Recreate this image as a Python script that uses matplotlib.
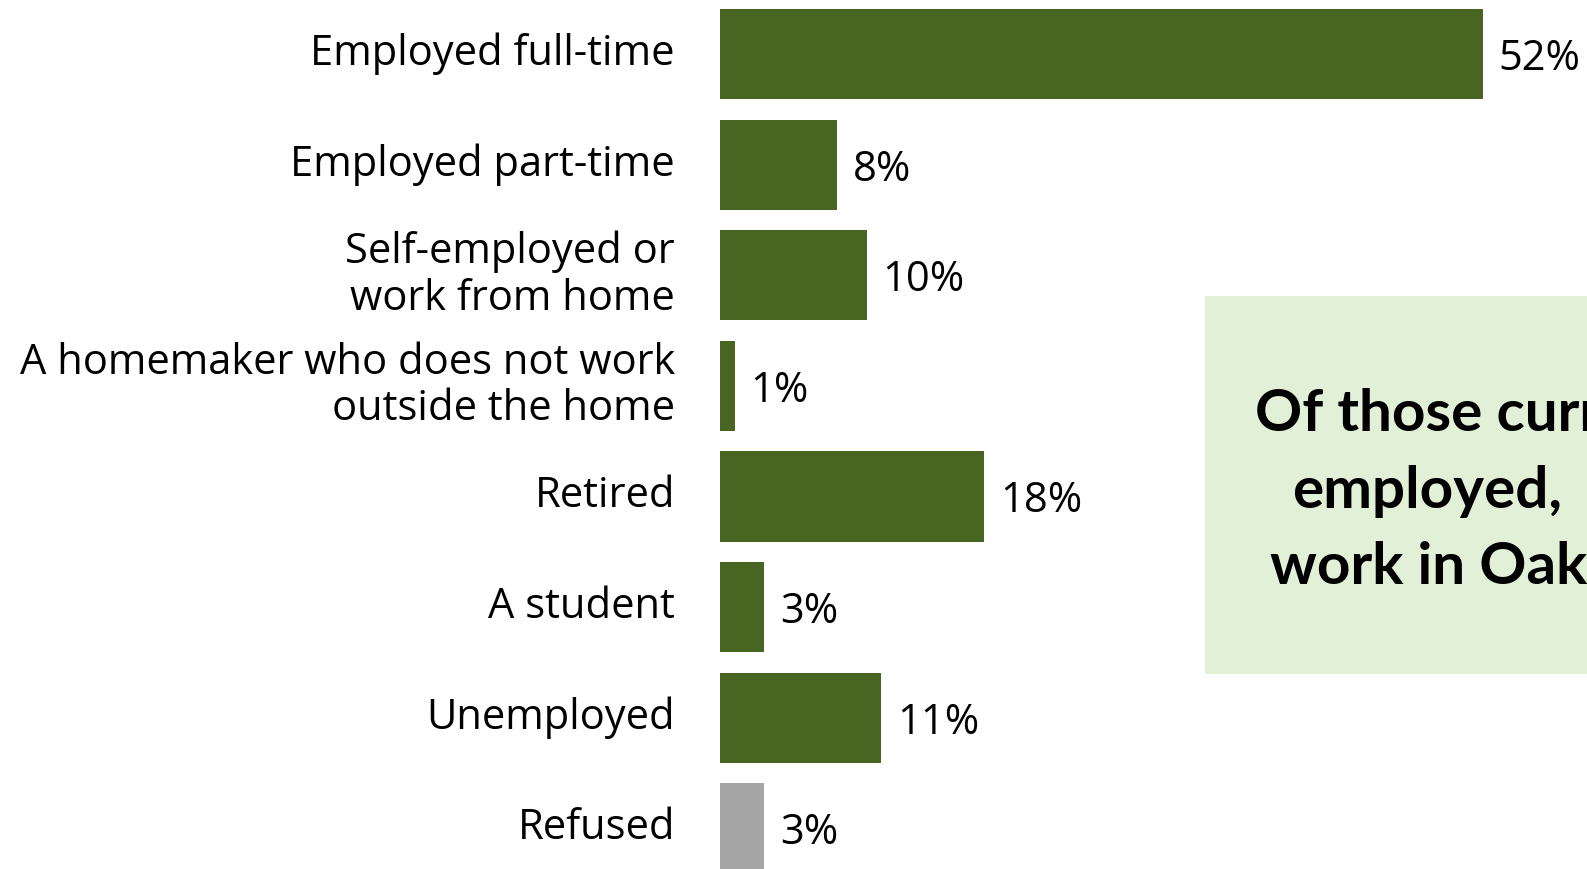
import matplotlib.pyplot as plt
from matplotlib.patches import Rectangle

# data
categories = ['Employed full-time', 'Employed part-time', 'Self-employed or\nwork from home',
              'A homemaker who does not work\noutside the home', 'Retired', 'A student',
              'Unemployed', 'Refused']
values = [52, 8, 10, 1, 18, 3, 11, 3]
bar_colors = ['#486521'] * 7 + ['#A6A6A6']
box_lines = ['Of those currently', 'employed,', 'work in Oakland']

plt.rcParams['font.family'] = ['Open Sans', 'DejaVu Sans']

W, H = 1587, 870
fig = plt.figure(figsize=(W / 100, H / 100), dpi=100)

# axes placed so bars line up with the reference
ax_left = 720 / W
ax = fig.add_axes([ax_left, 0, 1 - ax_left, 1])
px_per_unit = 14.67
ax.set_xlim(0, (W - 720) / px_per_unit)
pitch, first_c = 110.6, 55.1
ax.set_ylim((H - first_c) / pitch, -first_c / pitch)
ax.axis('off')

y = list(range(len(categories)))
ax.barh(y, values, height=0.814, color=bar_colors, clip_on=False)

for i, (cat, v) in enumerate(zip(categories, values)):
    ax.annotate(cat, xy=(0, i), xytext=(-45, 1), textcoords='offset pixels',
                ha='right', va='center', fontsize=30, color='black',
                linespacing=1.13, annotation_clip=False)
    ax.annotate(f'{v}%', xy=(v, i), xytext=(16, -4), textcoords='offset pixels',
                ha='left', va='center', fontsize=30, color='black',
                annotation_clip=False)

# callout box on the right, cut off by the figure edge
box = Rectangle((1205 / W, 1 - 675 / H), 1, (675 - 297) / H,
                transform=fig.transFigure, facecolor='#E3F0D8', edgecolor='none', zorder=0)
fig.patches.append(box)
starts = [1255, 1292, 1270]
base_y = [410, 486, 561]
for line, x0, yb in zip(box_lines, starts, base_y):
    fig.text(x0 / W, 1 - yb * 1.012 / H, line, ha='left', va='center',
             fontsize=42, fontweight='bold', color='black', family=['Lato', 'DejaVu Sans'])

fig.savefig('out.png', dpi=100)
